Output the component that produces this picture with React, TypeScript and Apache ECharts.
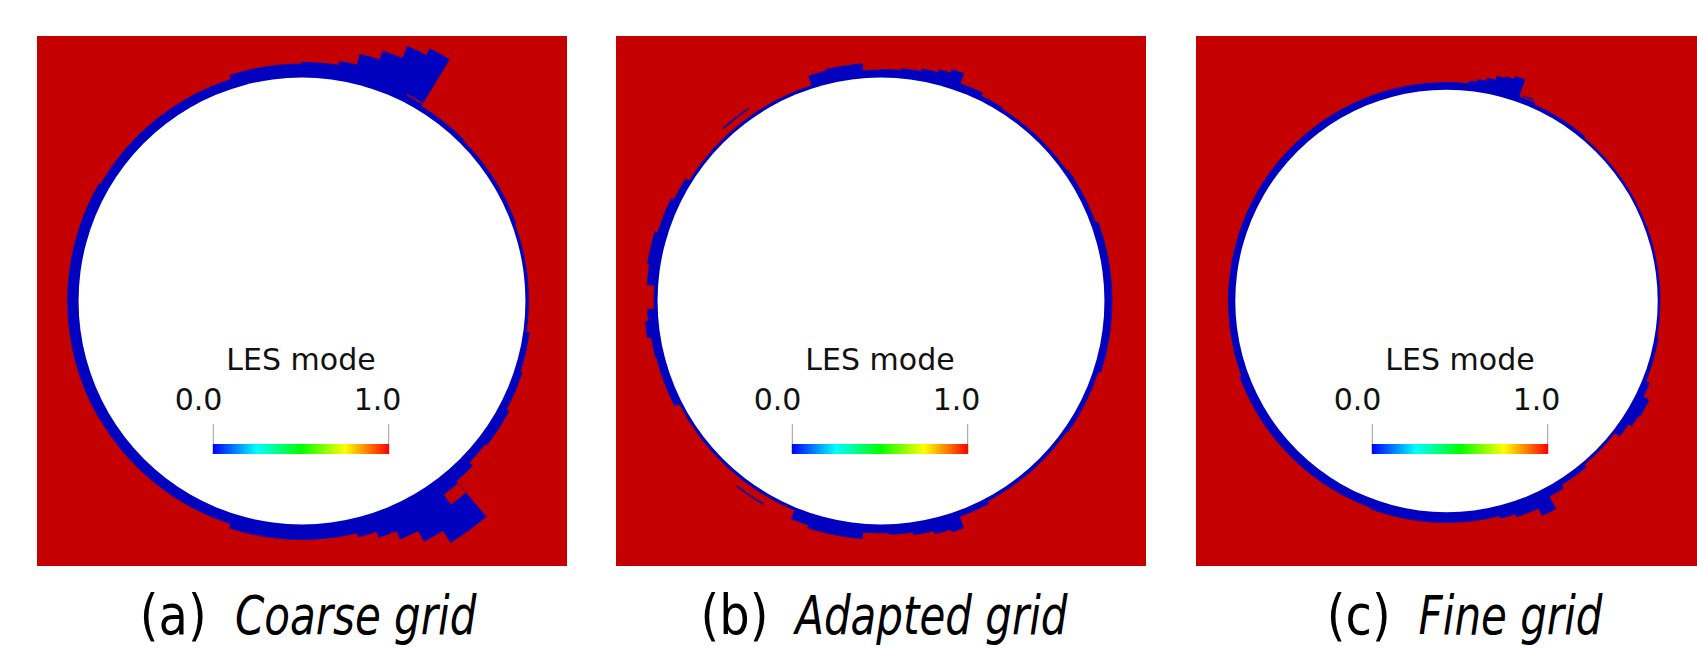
import React, { useEffect, useRef } from 'react';
import * as echarts from 'echarts';

// ---------- data ----------
// cylinder radius in data units (thickness values are % of the radius)
const CYL_R = 100;

const panelTags = ['(a)', '(b)', '(c)'];
const panelNames = ['Coarse grid', 'Adapted grid', 'Fine grid'];
const legendTitle = 'LES mode';
const legendTicks = ['0.0', '1.0'];
const legendStops = [0, 0.25, 0.5, 0.75, 1];
const legendColors = ['#0000ff', '#00ffff', '#00ff00', '#ffff00', '#ff0000'];

// RANS (blue, LES mode = 0) layer around the cylinder:
// [start angle deg (clockwise from top), end angle deg, layer thickness]
const coarseLayer = [
  [0, 8.9, 6.8], [8.9, 13.2, 8.5], [13.2, 17.9, 13.4], [17.9, 22.5, 17.5],
  [22.5, 26.9, 23.3], [26.9, 31.4, 26.6], [31.4, 45, 2.2], [45, 70, 1.8],
  [70, 98, 1.4], [98, 108, 2.7], [108, 118, 3.6], [118, 128, 4.9],
  [128, 134, 4.0], [134, 139.5, 6.1], [139.5, 148.4, 26.9], [148.4, 153.1, 20.6],
  [153.1, 157.6, 15.2], [157.6, 162, 11.2], [162, 166.6, 8.5], [166.6, 197.7, 6.7],
  [197.7, 240, 4.7], [240, 300, 4.9], [300, 342.3, 4.2], [342.3, 360, 6.1],
];
const adaptedLayer = [
  [0, 5, 3.6], [5, 10, 4.3], [10, 14, 5.4], [14, 17, 6.7], [17, 20, 8.3],
  [20, 26, 3.6], [26, 32, 2.2], [32, 55, 1.6], [55, 70, 2.2], [70, 108, 3.4],
  [108, 125, 2.2], [125, 152, 1.6], [152, 160, 2.7], [160, 163, 8.1], [163, 167, 6.9],
  [167, 172, 5.6], [172, 178, 4.5], [178, 184.5, 3.8], [184.5, 197.9, 6.7], [197.9, 202.4, 5.4],
  [202.4, 243, 1.3], [243, 256, 3.6], [256, 261, 4.0], [261, 265, 5.8], [265, 268, 4.5],
  [268, 274, 1.6], [274, 279, 4.9], [279, 287, 5.8], [287, 296, 4.5], [296, 302, 3.1],
  [302, 342.2, 1.3], [342.2, 346.5, 5.8], [346.5, 355.5, 6.5], [355.5, 360, 3.4],
];
const fineLayer = [
  [0, 6, 3.5], [6, 8, 4.7], [8, 10.3, 5.8], [10.3, 12.6, 7.2], [12.6, 14.8, 9.0],
  [14.8, 17, 9.8], [17, 19.5, 11.2], [19.5, 24, 2.7], [24, 40, 1.8], [40, 100, 1.1],
  [100, 112, 1.8], [112, 116, 3.6], [116, 121, 6.7], [121, 124, 5.8], [124, 128, 4.0],
  [128, 140, 1.3], [140, 148, 2.7], [148, 152.3, 4.5], [152.3, 156, 11.2], [156, 162, 7.4],
  [162, 166, 6.0], [166, 200, 4.8], [200, 250, 4.2], [250, 300, 3.3], [300, 340, 3.4],
  [340, 360, 3.5],
];
// isolated patches: [start angle, end angle, inner thickness, outer thickness, value (0 = blue, 1 = red)]
const coarseExtra = [[27, 31.2, 3.2, 3.9, 1], [139.5, 143.8, 7.4, 12.9, 1]];
const adaptedExtra = [[317.6, 325.6, 4.3, 5.0, 0], [210, 218, 4.7, 5.4, 0]];
const fineExtra = [[20.5, 23.5, 3.4, 4.0, 0]];

const layers = [coarseLayer, adaptedLayer, fineLayer];
const extras = [coarseExtra, adaptedExtra, fineExtra];

// ---------- layout / style ----------
const W = 1697;
const H = 649;
const PANEL_LEFT = [37, 616, 1196];
const PANEL_TOP = 36;
const PANEL_SIZE = 530;
const AXIS_HALF = 118.6;
const RED = '#c40000';
const BLUE = '#0000bf';
const TAG_RIGHT = [206.7, 768.4, 1390.7];
const NAME_LEFT = [235, 795.2, 1418.6];

const toRad = (a: number) => ((a - 90) * Math.PI) / 180;

function ringItem(params: any, api: any) {
  const c = api.coord([0, 0]);
  const e = api.coord([1, 0]);
  const unit = e[0] - c[0];
  return {
    type: 'sector',
    shape: {
      cx: c[0], cy: c[1],
      r0: (CYL_R - 4) * unit,
      r: (CYL_R + api.value(2)) * unit,
      startAngle: toRad(api.value(0)),
      endAngle: toRad(api.value(1)),
      clockwise: true,
    },
    style: { fill: BLUE, stroke: BLUE, lineWidth: 0.7 },
  };
}

function diskItem(params: any, api: any) {
  const c = api.coord([0, 0]);
  const e = api.coord([api.value(0), 0]);
  return {
    type: 'circle',
    shape: { cx: c[0], cy: c[1], r: e[0] - c[0] },
    style: { fill: '#ffffff' },
  };
}

function patchItem(params: any, api: any) {
  const c = api.coord([0, 0]);
  const e = api.coord([1, 0]);
  const unit = e[0] - c[0];
  const col = api.value(4) === 1 ? RED : BLUE;
  return {
    type: 'sector',
    shape: {
      cx: c[0], cy: c[1],
      r0: (CYL_R + api.value(2)) * unit,
      r: (CYL_R + api.value(3)) * unit,
      startAngle: toRad(api.value(0)),
      endAngle: toRad(api.value(1)),
      clockwise: true,
    },
    style: { fill: col },
  };
}

function buildOption() {
  const idx = [0, 1, 2];
  const grid = idx.map((i) => ({
    left: PANEL_LEFT[i], top: PANEL_TOP, width: PANEL_SIZE, height: PANEL_SIZE,
    show: true, backgroundColor: RED, borderWidth: 0,
  }));
  const xAxis = idx.map((i) => ({ type: 'value', gridIndex: i, min: -AXIS_HALF, max: AXIS_HALF, show: false }));
  const yAxis = idx.map((i) => ({ type: 'value', gridIndex: i, min: -AXIS_HALF, max: AXIS_HALF, show: false }));
  const series: any[] = [];
  idx.forEach((i) => {
    series.push({ type: 'custom', name: panelNames[i] + ' layer', xAxisIndex: i, yAxisIndex: i, data: layers[i], renderItem: ringItem, clip: true, silent: true, z: 2 });
    series.push({ type: 'custom', name: panelNames[i] + ' cylinder', xAxisIndex: i, yAxisIndex: i, data: [[CYL_R]], renderItem: diskItem, clip: true, silent: true, z: 3 });
    series.push({ type: 'custom', name: panelNames[i] + ' patches', xAxisIndex: i, yAxisIndex: i, data: extras[i], renderItem: patchItem, clip: true, silent: true, z: 4 });
  });

  const legendFont = { fontFamily: 'DejaVu Sans', fontSize: 30, fill: '#111' };
  const graphic: any[] = [];
  idx.forEach((i) => {
    const cx = PANEL_LEFT[i] + PANEL_SIZE / 2;
    const cy = PANEL_TOP + PANEL_SIZE / 2;
    const barL = cx - 89.2;
    const barW = 176.4;
    graphic.push({
      type: 'text', x: cx - 1, y: cy + 58, z: 10,
      style: { ...legendFont, text: legendTitle, align: 'center', verticalAlign: 'middle', textAlign: 'center', textVerticalAlign: 'middle' },
    });
    graphic.push({
      type: 'text', x: cx - 103.5, y: cy + 98, z: 10,
      style: { ...legendFont, text: legendTicks[0], align: 'center', verticalAlign: 'middle', textAlign: 'center', textVerticalAlign: 'middle' },
    });
    graphic.push({
      type: 'text', x: cx + 75.5, y: cy + 98, z: 10,
      style: { ...legendFont, text: legendTicks[1], align: 'center', verticalAlign: 'middle', textAlign: 'center', textVerticalAlign: 'middle' },
    });
    graphic.push({
      type: 'rect', z: 10,
      shape: { x: barL, y: cy + 143, width: barW, height: 10 },
      style: {
        fill: new echarts.graphic.LinearGradient(0, 0, 1, 0,
          legendStops.map((s, k) => ({ offset: s, color: legendColors[k] }))),
      },
    });
    graphic.push({ type: 'line', z: 10, shape: { x1: barL + 0.5, y1: cy + 123, x2: barL + 0.5, y2: cy + 143 }, style: { stroke: '#999', lineWidth: 1 } });
    graphic.push({ type: 'line', z: 10, shape: { x1: barL + barW - 0.5, y1: cy + 123, x2: barL + barW - 0.5, y2: cy + 143 }, style: { stroke: '#999', lineWidth: 1 } });

    // caption
    graphic.push({
      type: 'text', x: TAG_RIGHT[i], y: 615, scaleY: 1.15, z: 10,
      style: { text: panelTags[i], fontFamily: 'DejaVu Sans', fontSize: 48, fill: '#000', align: 'right', verticalAlign: 'middle', textAlign: 'right', textVerticalAlign: 'middle' },
    });
    graphic.push({
      type: 'text', x: NAME_LEFT[i], y: 616, scaleY: 1.25, z: 10,
      style: { text: panelNames[i], fontFamily: 'DejaVu Sans', fontStyle: 'italic', fontSize: 42, fill: '#000', align: 'left', verticalAlign: 'middle', textAlign: 'left', textVerticalAlign: 'middle' },
    });
  });

  return {
    animation: false,
    backgroundColor: '#ffffff',
    grid, xAxis, yAxis, series, graphic,
  };
}

export default function App() {
  const ref = useRef<HTMLDivElement>(null);
  useEffect(() => {
    if (!ref.current) return;
    const chart = echarts.init(ref.current, null, { renderer: 'svg' });
    chart.setOption(buildOption() as any);
    return () => chart.dispose();
  }, []);
  return (
    <div
      ref={ref}
      style={{ position: 'absolute', left: 0, top: 0, width: W, height: H, overflow: 'hidden' }}
    />
  );
}
